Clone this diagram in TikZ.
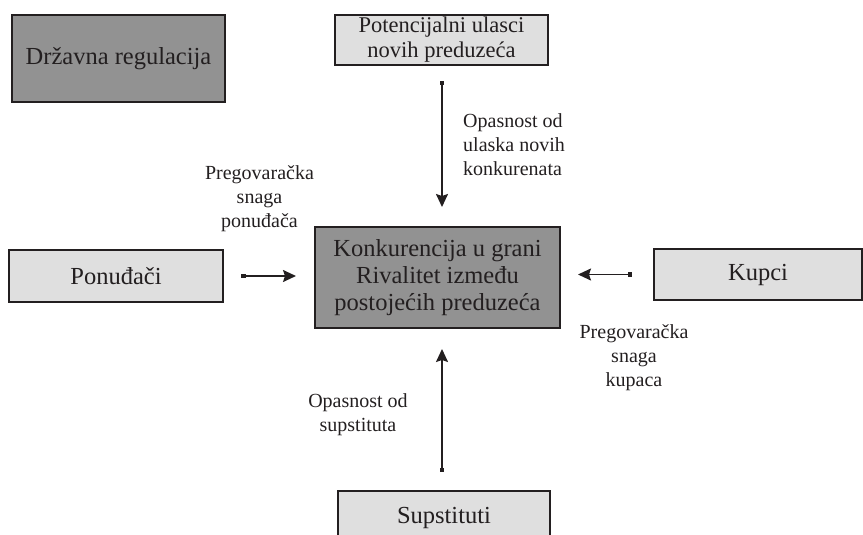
\documentclass[tikz,border=0pt]{standalone}
\usepackage{fontspec}
\setmainfont{Liberation Serif}
\usetikzlibrary{arrows.meta}
\definecolor{boxdark}{RGB}{146,146,146}
\definecolor{boxlight}{RGB}{223,223,223}
\definecolor{edge}{RGB}{35,31,32}
\begin{document}
\begin{tikzpicture}[x=1pt, y=-1pt,
    box/.style={draw=edge, line width=2pt, align=center, inner sep=0pt, text=edge,
        font=\fontsize{24.5}{27}\selectfont},
    darkbox/.style={box, fill=boxdark},
    lightbox/.style={box, fill=boxlight},
    force/.style={line width=1.7pt, draw=edge,
        {Square[length=4.5pt,width=4.5pt]}-{Stealth[length=13pt,width=12pt,inset=2pt]}},
    lbl/.style={font=\fontsize{20}{24}\selectfont, text=edge, inner sep=0pt}]
    \useasboundingbox (0,0) rectangle (863,535);

    \node[darkbox, minimum width=213pt, minimum height=87pt] (drz) at (118.5,58.5)
        {Državna regulacija};
    \node[lightbox, minimum width=213pt, minimum height=50pt,
        font=\fontsize{22.5}{25}\selectfont] (pot) at (441.5,40)
        {Potencijalni ulasci\\novih preduzeća};
    \node[lightbox, minimum width=214pt, minimum height=52pt] (pon) at (116,276) {Ponuđači};
    \node[darkbox, minimum width=245pt, minimum height=101pt] (kon) at (437.5,277.5)
        {Konkurencija u grani\\Rivalitet između\\postojećih preduzeća};
    \node[lightbox, minimum width=208pt, minimum height=51pt] (kup) at (758,274.5) {Kupci};
    \begin{scope}
        \clip (0,0) rectangle (863,535);
        \node[lightbox, minimum width=212pt, minimum height=54pt] (sup) at (444,518) {Supstituti};
    \end{scope}

    \draw[force, shorten <=15pt, shorten >=19pt] (pot.south -| 442,0) -- (442,0 |- kon.north);
    \draw[force, shorten <=17pt, shorten >=18pt] (pon.east) -- (pon.east -| kon.west);
    \draw[force, shorten <=21pt, shorten >=17pt] (kup.west) -- (kup.west -| kon.east);
    \draw[force, shorten <=18pt, shorten >=20pt] (sup.north -| 442,0) -- (442,0 |- kon.south);

    \node[lbl, align=left, anchor=west] (lnovi) at (463,144.5)
        {Opasnost od\\ulaska novih\\konkurenata};
    \node[lbl, align=center] (lpon) at (259.5,199) {Pregovaračka\\snaga\\ponuđača};
    \node[lbl, align=center] (lkup) at (634,358) {Pregovaračka\\snaga\\kupaca};
    \node[lbl, align=center] (lsup) at (358,414.5) {Opasnost od\\supstituta};
\end{tikzpicture}
\end{document}
